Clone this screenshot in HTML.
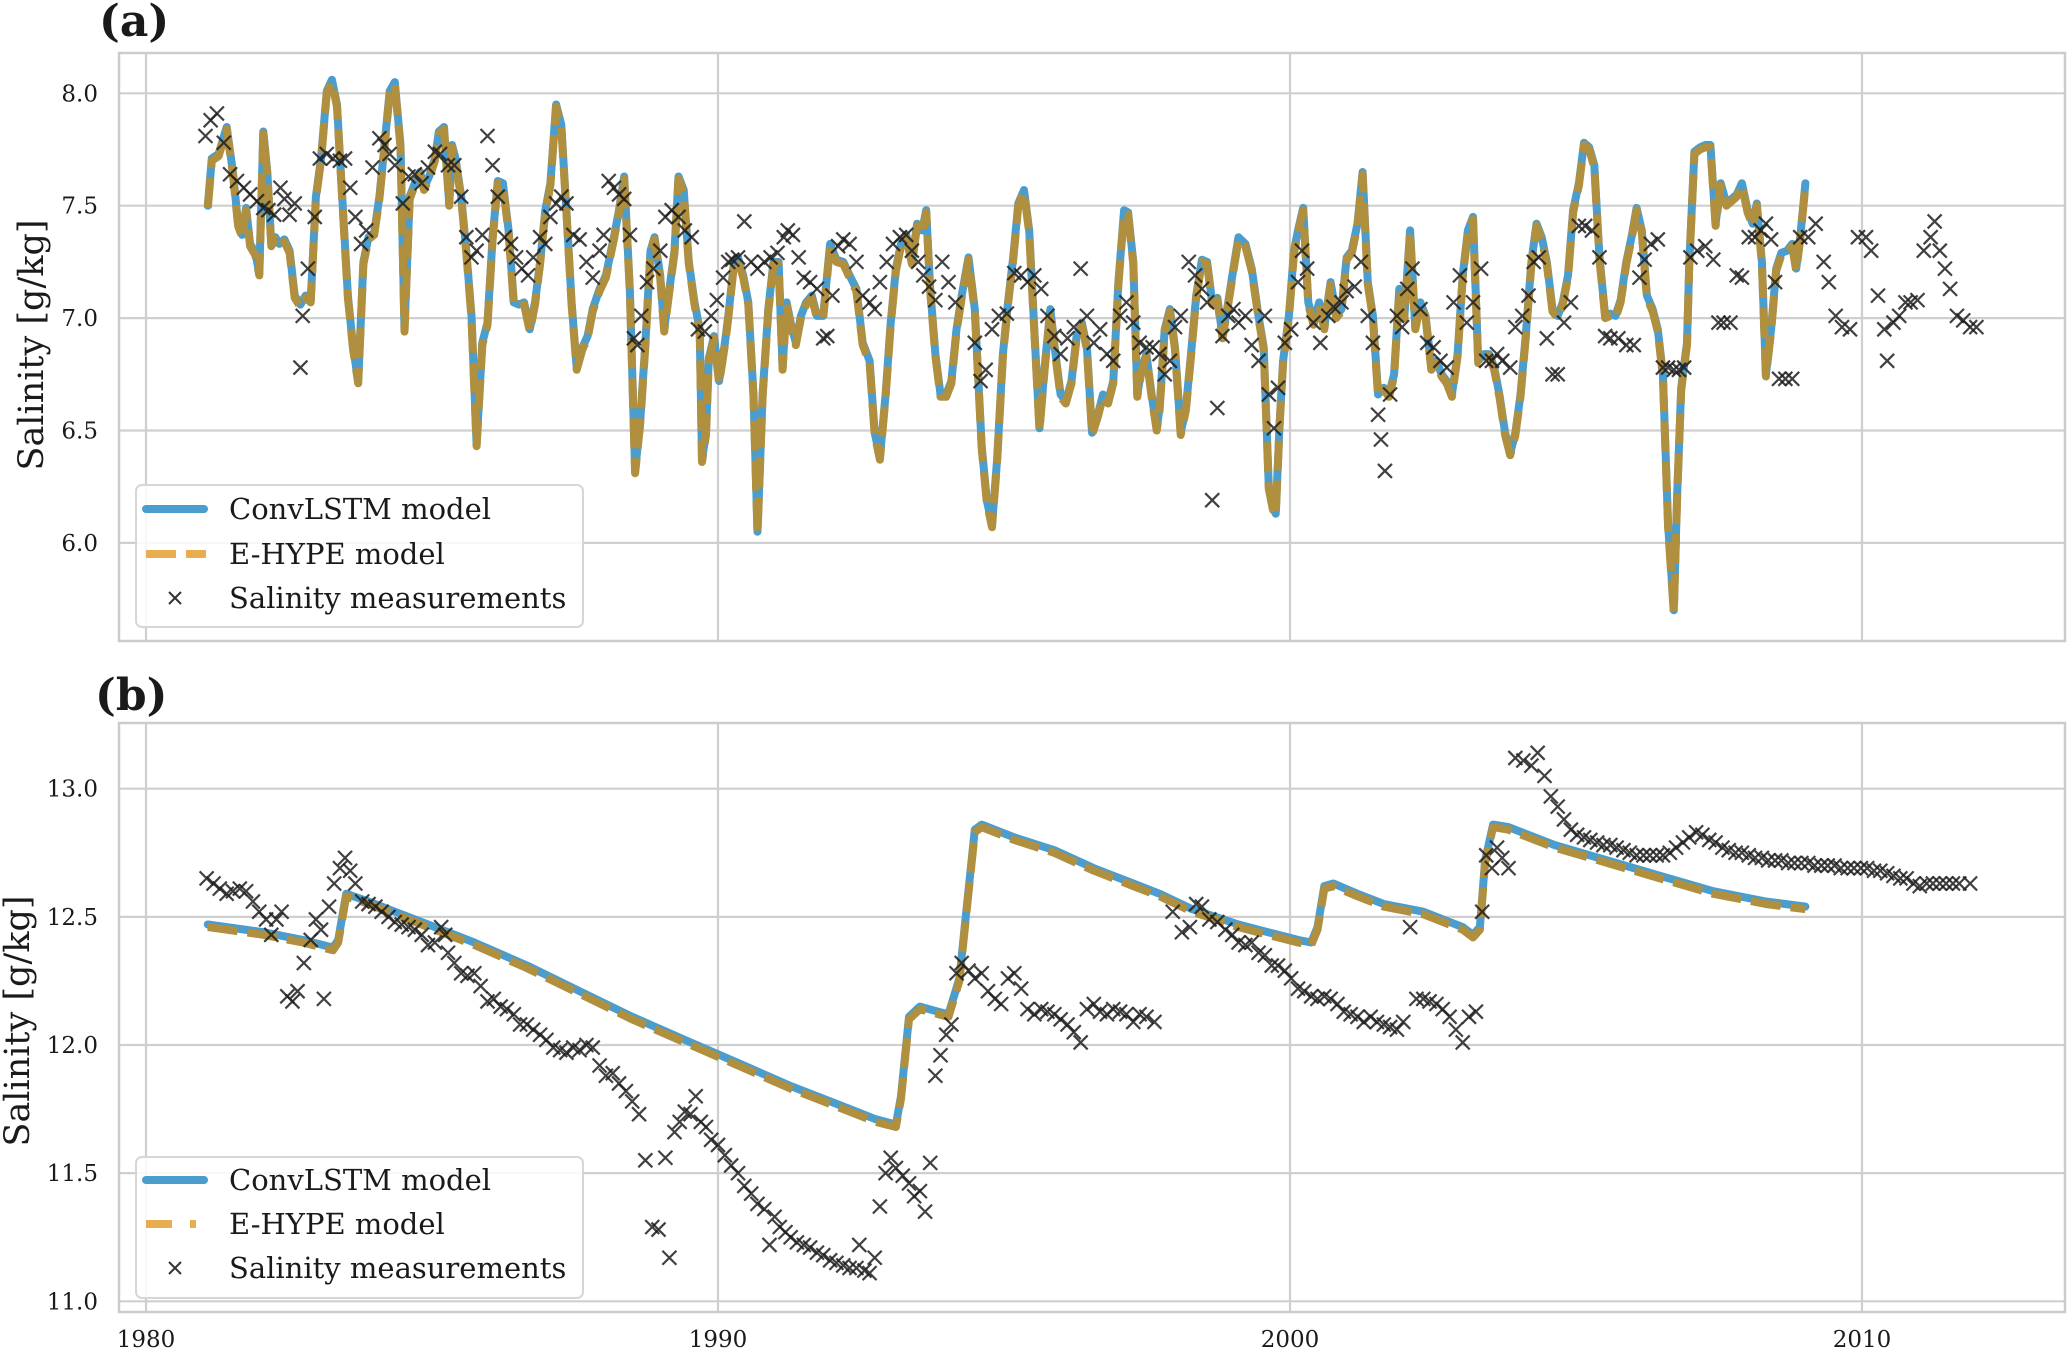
<!DOCTYPE html>
<html><head><meta charset="utf-8"><style>
html,body{margin:0;padding:0;background:#fff;}
svg{display:block;font-family:"DejaVu Serif","Liberation Serif",serif;}
</style></head><body>
<svg id="chart" width="2067" height="1352" viewBox="0 0 2067 1352" xmlns="http://www.w3.org/2000/svg">
<rect x="0" y="0" width="2067" height="1352" fill="#fff"/>
</svg>
<script>
// ---------- Panel (a) data ----------
const aModelYears=[1981.08,1981.15,1981.27,1981.41,1981.52,1981.61,1981.68,1981.75,1981.82,1981.91,1981.98,1982.05,1982.12,1982.19,1982.26,1982.33,1982.42,1982.51,1982.60,1982.70,1982.79,1982.88,1982.97,1983.06,1983.16,1983.25,1983.34,1983.43,1983.53,1983.62,1983.71,1983.80,1983.89,1983.99,1984.08,1984.17,1984.26,1984.35,1984.45,1984.52,1984.61,1984.70,1984.79,1984.86,1984.95,1985.05,1985.12,1985.21,1985.30,1985.35,1985.41,1985.51,1985.60,1985.69,1985.78,1985.88,1985.97,1986.06,1986.15,1986.24,1986.34,1986.43,1986.52,1986.61,1986.71,1986.80,1986.89,1986.98,1987.07,1987.17,1987.26,1987.35,1987.44,1987.53,1987.63,1987.72,1987.81,1987.93,1988.04,1988.18,1988.27,1988.36,1988.46,1988.55,1988.64,1988.73,1988.82,1988.89,1988.99,1989.06,1989.15,1989.24,1989.31,1989.40,1989.49,1989.59,1989.68,1989.72,1989.79,1989.84,1989.93,1990.02,1990.12,1990.18,1990.28,1990.35,1990.44,1990.53,1990.62,1990.69,1990.78,1990.88,1990.97,1991.06,1991.13,1991.20,1991.27,1991.36,1991.45,1991.54,1991.64,1991.73,1991.84,1991.96,1992.07,1992.19,1992.30,1992.42,1992.53,1992.65,1992.74,1992.83,1992.93,1993.02,1993.11,1993.20,1993.29,1993.39,1993.48,1993.57,1993.64,1993.71,1993.80,1993.89,1993.99,1994.08,1994.17,1994.26,1994.38,1994.49,1994.61,1994.70,1994.79,1994.88,1994.98,1995.07,1995.16,1995.25,1995.35,1995.44,1995.53,1995.62,1995.71,1995.81,1995.90,1995.99,1996.08,1996.18,1996.27,1996.36,1996.45,1996.54,1996.64,1996.73,1996.82,1996.91,1997.00,1997.10,1997.17,1997.26,1997.33,1997.40,1997.49,1997.58,1997.67,1997.72,1997.81,1997.90,1997.99,1998.09,1998.18,1998.27,1998.36,1998.46,1998.55,1998.64,1998.73,1998.82,1998.92,1999.01,1999.10,1999.22,1999.33,1999.45,1999.54,1999.63,1999.70,1999.75,1999.82,1999.88,1999.98,2000.07,2000.14,2000.23,2000.32,2000.41,2000.51,2000.60,2000.71,2000.81,2000.90,2000.99,2001.08,2001.18,2001.27,2001.36,2001.45,2001.54,2001.64,2001.73,2001.82,2001.91,2002.00,2002.10,2002.19,2002.28,2002.37,2002.47,2002.56,2002.65,2002.74,2002.83,2002.93,2003.02,2003.11,2003.20,2003.29,2003.39,2003.48,2003.57,2003.66,2003.76,2003.85,2003.94,2004.03,2004.12,2004.22,2004.31,2004.40,2004.49,2004.59,2004.68,2004.77,2004.86,2004.95,2005.05,2005.14,2005.23,2005.32,2005.41,2005.51,2005.60,2005.69,2005.78,2005.88,2005.97,2006.06,2006.15,2006.24,2006.34,2006.43,2006.52,2006.61,2006.71,2006.77,2006.84,2006.94,2006.98,2007.07,2007.17,2007.26,2007.35,2007.44,2007.53,2007.63,2007.72,2007.81,2007.90,2008.00,2008.09,2008.16,2008.25,2008.32,2008.41,2008.50,2008.59,2008.69,2008.78,2008.85,2008.92,2009.01];
const aConvLSTM=[7.50,7.71,7.73,7.85,7.65,7.42,7.37,7.49,7.33,7.29,7.20,7.83,7.65,7.33,7.36,7.33,7.35,7.30,7.10,7.06,7.10,7.08,7.54,7.71,8.01,8.06,7.95,7.54,7.10,6.87,6.72,7.25,7.36,7.38,7.54,7.77,8.01,8.05,7.77,6.95,7.54,7.60,7.65,7.58,7.63,7.71,7.83,7.85,7.51,7.77,7.71,7.54,7.30,7.01,6.44,6.89,6.98,7.36,7.61,7.60,7.39,7.07,7.06,7.07,6.95,7.07,7.25,7.48,7.60,7.95,7.86,7.48,7.07,6.78,6.87,6.92,7.04,7.13,7.19,7.36,7.48,7.63,7.12,6.32,6.54,6.89,7.30,7.36,7.19,6.95,7.13,7.30,7.63,7.57,7.25,7.07,6.95,6.37,6.49,6.82,6.92,6.72,6.89,7.01,7.25,7.27,7.19,7.07,6.66,6.05,6.66,7.04,7.25,7.25,6.78,7.07,6.98,6.89,7.01,7.07,7.10,7.01,7.01,7.33,7.26,7.25,7.19,7.13,6.89,6.81,6.49,6.38,6.66,6.98,7.22,7.33,7.37,7.25,7.42,7.39,7.48,7.13,6.84,6.66,6.66,6.72,6.95,7.10,7.27,7.04,6.43,6.19,6.08,6.37,6.84,7.07,7.27,7.51,7.57,7.39,6.95,6.51,6.78,7.04,6.84,6.66,6.63,6.72,6.92,6.98,6.87,6.49,6.57,6.66,6.63,6.72,7.16,7.48,7.47,7.25,6.66,6.77,6.84,6.66,6.51,6.60,6.95,7.04,6.87,6.49,6.60,6.84,7.10,7.26,7.25,7.07,7.09,6.92,7.07,7.22,7.36,7.33,7.22,7.01,6.87,6.25,6.16,6.13,6.54,6.81,7.01,7.30,7.39,7.49,7.07,6.98,7.07,6.96,7.16,7.01,7.04,7.27,7.30,7.42,7.65,7.16,7.01,6.66,6.69,6.66,6.75,7.13,7.01,7.39,6.96,7.07,7.01,6.78,6.81,6.75,6.72,6.66,6.84,7.19,7.39,7.45,6.81,6.84,6.84,6.78,6.66,6.49,6.40,6.49,6.66,6.92,7.25,7.42,7.36,7.25,7.04,7.01,7.07,7.19,7.48,7.60,7.78,7.76,7.68,7.27,7.01,7.02,7.01,7.08,7.25,7.36,7.49,7.39,7.10,7.04,6.95,6.75,6.08,5.70,6.22,6.69,6.89,7.25,7.74,7.76,7.77,7.77,7.42,7.60,7.51,7.53,7.55,7.60,7.48,7.42,7.51,7.25,6.75,6.95,7.22,7.29,7.30,7.33,7.22,7.36,7.60];
const aEHYPE=aConvLSTM.map(v=>v-0.01);
const aMeasYears=[1981.04,1981.13,1981.24,1981.36,1981.47,1981.59,1981.71,1981.82,1981.94,1982.05,1982.14,1982.24,1982.35,1982.42,1982.51,1982.60,1982.70,1982.74,1982.83,1982.95,1983.04,1983.16,1983.27,1983.39,1983.48,1983.57,1983.66,1983.76,1983.85,1983.96,1984.08,1984.17,1984.26,1984.35,1984.49,1984.59,1984.70,1984.82,1984.93,1985.05,1985.14,1985.28,1985.39,1985.51,1985.60,1985.69,1985.78,1985.88,1985.97,1986.06,1986.15,1986.27,1986.38,1986.47,1986.57,1986.68,1986.77,1986.89,1986.98,1987.07,1987.17,1987.26,1987.35,1987.47,1987.58,1987.70,1987.81,1987.93,1988.00,1988.09,1988.18,1988.27,1988.36,1988.46,1988.53,1988.59,1988.66,1988.76,1988.87,1988.99,1989.08,1989.19,1989.31,1989.42,1989.54,1989.65,1989.77,1989.88,1989.98,1990.09,1990.18,1990.25,1990.35,1990.46,1990.58,1990.69,1990.81,1990.92,1991.04,1991.15,1991.22,1991.31,1991.41,1991.50,1991.61,1991.73,1991.84,1991.91,1992.00,1992.10,1992.19,1992.30,1992.42,1992.53,1992.65,1992.74,1992.83,1992.95,1993.06,1993.18,1993.29,1993.39,1993.50,1993.59,1993.69,1993.80,1993.92,1994.03,1994.15,1994.49,1994.59,1994.68,1994.79,1994.91,1995.05,1995.18,1995.30,1995.41,1995.53,1995.65,1995.76,1995.88,1995.99,1996.11,1996.22,1996.34,1996.45,1996.57,1996.68,1996.80,1996.91,1997.03,1997.14,1997.26,1997.37,1997.49,1997.60,1997.72,1997.81,1997.90,1997.99,1998.09,1998.23,1998.34,1998.46,1998.55,1998.64,1998.73,1998.82,1998.92,1999.01,1999.10,1999.22,1999.33,1999.45,1999.56,1999.63,1999.72,1999.79,1999.91,2000.02,2000.14,2000.21,2000.30,2000.41,2000.53,2000.67,2000.76,2000.90,2000.99,2001.13,2001.24,2001.36,2001.45,2001.54,2001.59,2001.66,2001.75,2001.87,2001.96,2002.05,2002.14,2002.28,2002.40,2002.51,2002.63,2002.74,2002.86,2002.97,2003.09,2003.20,2003.34,2003.43,2003.53,2003.62,2003.71,2003.85,2003.94,2004.06,2004.17,2004.26,2004.35,2004.49,2004.59,2004.68,2004.79,2004.91,2005.05,2005.16,2005.28,2005.41,2005.51,2005.60,2005.74,2005.88,2006.01,2006.11,2006.20,2006.31,2006.43,2006.52,2006.61,2006.71,2006.80,2006.89,2007.00,2007.12,2007.26,2007.40,2007.49,2007.58,2007.70,2007.81,2007.90,2008.02,2008.13,2008.23,2008.32,2008.41,2008.48,2008.55,2008.66,2008.78,2008.92,2009.06,2009.19,2009.33,2009.42,2009.54,2009.65,2009.79,2009.93,2010.07,2010.16,2010.28,2010.39,2010.44,2010.55,2010.65,2010.76,2010.85,2010.97,2011.08,2011.20,2011.27,2011.36,2011.45,2011.54,2011.66,2011.77,2011.89,2012.00];
const aMeasValues=[7.81,7.88,7.91,7.78,7.64,7.61,7.58,7.55,7.52,7.49,7.48,7.46,7.58,7.53,7.46,7.51,6.78,7.01,7.22,7.45,7.71,7.73,7.71,7.70,7.71,7.58,7.45,7.33,7.39,7.67,7.80,7.77,7.73,7.68,7.51,7.63,7.64,7.60,7.67,7.74,7.73,7.68,7.68,7.54,7.36,7.27,7.30,7.37,7.81,7.68,7.54,7.36,7.33,7.27,7.22,7.19,7.27,7.36,7.33,7.45,7.51,7.54,7.51,7.37,7.35,7.25,7.18,7.30,7.37,7.61,7.58,7.55,7.53,7.37,6.91,6.88,7.01,7.16,7.22,7.30,7.45,7.48,7.45,7.39,7.36,6.95,6.94,7.01,7.08,7.18,7.25,7.26,7.27,7.43,7.25,7.22,7.25,7.27,7.29,7.36,7.39,7.37,7.27,7.18,7.16,7.13,6.91,6.92,7.10,7.32,7.35,7.33,7.25,7.10,7.07,7.04,7.16,7.25,7.33,7.36,7.37,7.30,7.25,7.19,7.14,7.08,7.25,7.16,7.07,6.89,6.72,6.77,6.95,7.01,7.02,7.20,7.19,7.16,7.19,7.13,7.01,6.92,6.84,6.91,6.96,7.22,7.01,6.89,6.95,6.84,6.81,7.01,7.07,6.98,6.89,6.87,6.87,6.84,6.75,6.81,6.96,7.01,7.25,7.19,7.13,7.07,6.19,6.60,6.92,7.01,7.04,6.98,7.01,6.88,6.81,7.01,6.66,6.51,6.69,6.89,6.95,7.16,7.30,7.22,6.98,6.89,7.01,7.05,7.07,7.12,7.14,7.25,7.01,6.89,6.57,6.46,6.32,6.66,7.01,6.96,7.13,7.22,7.04,6.89,6.87,6.81,6.78,7.07,7.19,6.98,7.07,7.22,6.81,6.81,6.84,6.81,6.78,6.96,7.01,7.10,7.25,7.27,6.91,6.75,6.75,6.98,7.07,7.41,7.41,7.39,7.27,6.92,6.91,6.91,6.88,6.88,7.18,7.26,7.33,7.35,6.78,6.78,6.77,6.77,6.78,7.27,7.30,7.32,7.26,6.98,6.98,6.98,7.19,7.18,7.36,7.36,7.39,7.42,7.35,7.16,6.73,6.73,6.73,7.36,7.36,7.42,7.25,7.16,7.01,6.96,6.95,7.36,7.36,7.30,7.10,6.95,6.81,6.98,7.01,7.07,7.07,7.08,7.30,7.36,7.43,7.30,7.22,7.13,7.01,6.99,6.96,6.96];
const aYTicks=[6.0,6.5,7.0,7.5,8.0];
const aYTickLabels=["6.0","6.5","7.0","7.5","8.0"];

// ---------- Panel (b) data ----------
const bModelYears=[1981.08,1982.05,1982.74,1983.27,1983.36,1983.50,1983.89,1984.35,1985.05,1985.74,1986.66,1987.58,1988.50,1989.42,1990.35,1991.27,1992.19,1992.76,1993.11,1993.20,1993.34,1993.53,1993.85,1994.03,1994.22,1994.35,1994.49,1994.61,1995.18,1995.88,1996.57,1997.26,1997.72,1998.29,1999.10,1999.79,2000.14,2000.37,2000.48,2000.60,2000.76,2001.18,2001.64,2002.33,2003.02,2003.20,2003.32,2003.41,2003.55,2003.82,2004.63,2005.55,2006.47,2007.40,2008.32,2009.01];
const bConvLSTM=[12.47,12.44,12.41,12.38,12.41,12.59,12.56,12.52,12.46,12.40,12.31,12.21,12.11,12.02,11.93,11.84,11.76,11.71,11.69,11.80,12.11,12.15,12.13,12.12,12.26,12.54,12.84,12.86,12.81,12.76,12.69,12.63,12.59,12.53,12.47,12.43,12.41,12.40,12.46,12.62,12.63,12.59,12.55,12.52,12.46,12.43,12.46,12.72,12.86,12.85,12.78,12.72,12.66,12.60,12.56,12.54];
const bEHYPE=bConvLSTM.map(v=>v-0.01);
const bMeasYears=[1981.06,1981.18,1981.29,1981.41,1981.52,1981.64,1981.75,1981.87,1981.98,1982.10,1982.19,1982.28,1982.37,1982.47,1982.56,1982.65,1982.76,1982.88,1982.97,1983.06,1983.11,1983.20,1983.29,1983.39,1983.48,1983.57,1983.66,1983.78,1983.89,1984.01,1984.12,1984.24,1984.35,1984.47,1984.59,1984.70,1984.82,1984.93,1985.05,1985.16,1985.23,1985.28,1985.39,1985.51,1985.62,1985.74,1985.85,1985.97,1986.08,1986.20,1986.31,1986.43,1986.54,1986.66,1986.77,1986.89,1987.00,1987.12,1987.24,1987.35,1987.47,1987.58,1987.70,1987.81,1987.93,1988.04,1988.16,1988.27,1988.39,1988.50,1988.62,1988.73,1988.85,1988.96,1989.08,1989.15,1989.24,1989.33,1989.42,1989.52,1989.61,1989.70,1989.79,1989.88,1990.00,1990.12,1990.23,1990.35,1990.46,1990.58,1990.69,1990.81,1990.90,1990.99,1991.08,1991.18,1991.27,1991.38,1991.50,1991.61,1991.73,1991.84,1991.96,1992.07,1992.19,1992.30,1992.42,1992.47,1992.56,1992.65,1992.74,1992.83,1992.93,1993.02,1993.11,1993.23,1993.34,1993.43,1993.53,1993.62,1993.71,1993.80,1993.89,1993.99,1994.08,1994.17,1994.26,1994.38,1994.49,1994.61,1994.72,1994.84,1994.95,1995.07,1995.18,1995.30,1995.41,1995.53,1995.65,1995.76,1995.88,1995.99,1996.11,1996.22,1996.34,1996.45,1996.57,1996.68,1996.80,1996.91,1997.03,1997.14,1997.26,1997.37,1997.49,1997.63,1997.95,1998.11,1998.25,1998.36,1998.46,1998.59,1998.73,1998.87,1998.99,1999.10,1999.22,1999.33,1999.45,1999.56,1999.68,1999.79,1999.91,2000.02,2000.14,2000.25,2000.37,2000.48,2000.60,2000.71,2000.83,2000.94,2001.06,2001.18,2001.29,2001.41,2001.52,2001.64,2001.75,2001.87,2001.98,2002.10,2002.21,2002.33,2002.44,2002.56,2002.67,2002.79,2002.90,2003.02,2003.13,2003.25,2003.36,2003.43,2003.53,2003.62,2003.71,2003.82,2003.94,2004.08,2004.22,2004.33,2004.45,2004.56,2004.68,2004.79,2004.91,2005.02,2005.14,2005.25,2005.37,2005.48,2005.60,2005.71,2005.83,2005.94,2006.06,2006.18,2006.29,2006.41,2006.52,2006.64,2006.75,2006.87,2006.98,2007.10,2007.21,2007.33,2007.44,2007.56,2007.67,2007.79,2007.90,2008.02,2008.13,2008.25,2008.36,2008.48,2008.59,2008.71,2008.82,2008.94,2009.06,2009.17,2009.29,2009.40,2009.52,2009.63,2009.75,2009.86,2009.98,2010.09,2010.21,2010.32,2010.44,2010.55,2010.67,2010.78,2010.90,2011.01,2011.13,2011.24,2011.36,2011.47,2011.59,2011.70,2011.89];
const bMeasValues=[12.65,12.63,12.61,12.59,12.60,12.61,12.60,12.56,12.52,12.49,12.43,12.49,12.52,12.19,12.17,12.21,12.32,12.41,12.49,12.45,12.18,12.54,12.63,12.69,12.73,12.68,12.63,12.56,12.55,12.54,12.52,12.50,12.48,12.47,12.46,12.45,12.43,12.39,12.40,12.46,12.43,12.36,12.32,12.28,12.27,12.28,12.23,12.17,12.18,12.15,12.14,12.12,12.08,12.08,12.06,12.04,12.02,11.99,11.98,11.97,11.99,11.98,12.00,11.99,11.92,11.88,11.89,11.85,11.82,11.78,11.73,11.55,11.29,11.28,11.56,11.17,11.66,11.70,11.74,11.73,11.80,11.70,11.68,11.63,11.61,11.57,11.53,11.50,11.45,11.42,11.38,11.36,11.22,11.33,11.29,11.27,11.25,11.23,11.22,11.21,11.19,11.18,11.16,11.15,11.14,11.13,11.13,11.22,11.12,11.11,11.17,11.37,11.50,11.56,11.52,11.49,11.46,11.41,11.43,11.35,11.54,11.88,11.96,12.04,12.08,12.28,12.32,12.29,12.26,12.28,12.21,12.18,12.16,12.26,12.28,12.22,12.14,12.12,12.14,12.13,12.12,12.10,12.08,12.05,12.01,12.14,12.16,12.13,12.12,12.14,12.13,12.12,12.09,12.12,12.11,12.09,12.52,12.44,12.46,12.55,12.54,12.49,12.48,12.45,12.43,12.40,12.39,12.40,12.36,12.35,12.31,12.31,12.29,12.26,12.22,12.21,12.19,12.18,12.19,12.18,12.16,12.13,12.12,12.11,12.09,12.11,12.09,12.08,12.07,12.06,12.09,12.46,12.18,12.18,12.17,12.16,12.14,12.11,12.06,12.01,12.11,12.13,12.52,12.74,12.69,12.77,12.73,12.69,13.12,13.11,13.09,13.14,13.05,12.97,12.93,12.88,12.84,12.82,12.81,12.80,12.79,12.78,12.78,12.77,12.76,12.75,12.74,12.74,12.74,12.74,12.74,12.75,12.77,12.79,12.81,12.83,12.82,12.80,12.79,12.77,12.76,12.75,12.75,12.74,12.73,12.73,12.72,12.72,12.72,12.71,12.71,12.71,12.71,12.70,12.70,12.70,12.70,12.69,12.69,12.69,12.69,12.69,12.68,12.68,12.67,12.66,12.65,12.65,12.63,12.62,12.63,12.63,12.63,12.63,12.63,12.63,12.63];
const bYTicks=[11.0,11.5,12.0,12.5,13.0];
const bYTickLabels=["11.0","11.5","12.0","12.5","13.0"];

const xTicks=[1980,1990,2000,2010];
const xTickLabels=["1980","1990","2000","2010"];

// ---------- drawing ----------
const NS="http://www.w3.org/2000/svg";
const svg=document.getElementById('chart');
function mk(tag,attrs,parent){const e=document.createElementNS(NS,tag);for(const k in attrs)e.setAttribute(k,attrs[k]);(parent||svg).appendChild(e);return e;}
const X0=119,X1=2065;
function xScale(yr){return 146+(yr-1980)*57.2;}

function panel(cfg){
  const g=mk('g',{});
  
  
  const y=v=>cfg.y0+(cfg.vTop-v)*cfg.k;
  cfg.yTicks.forEach((t,i)=>{
    const l=mk('line',{x1:X0,x2:X1,y1:y(t),y2:y(t),stroke:'#cfcfcf','stroke-width':2.2},g);
    
    
    const tx=mk('text',{x:98,y:y(t)+8,'text-anchor':'end','font-size':23,fill:'#1a1a1a'},g);
    tx.textContent=cfg.yTickLabels[i];
    
    
  });
  xTicks.forEach(t=>{
    const l=mk('line',{x1:xScale(t),x2:xScale(t),y1:cfg.top,y2:cfg.bottom,stroke:'#cfcfcf','stroke-width':2.2},g);
    
    
  });
  const fr=mk('rect',{x:X0,y:cfg.top,width:X1-X0,height:cfg.bottom-cfg.top,fill:'none',stroke:'#cccccc','stroke-width':2.5},g);
  
  
  const pts=(xs,vs)=>xs.map((t,i)=>xScale(t).toFixed(1)+','+y(vs[i]).toFixed(1)).join(' ');
  const l1=mk('polyline',{points:pts(cfg.modelYears,cfg.conv),fill:'none',stroke:'#4a9dcc','stroke-width':8,'stroke-linejoin':'round','stroke-linecap':'round'},g);
  
  
  const l2=mk('polyline',{points:pts(cfg.modelYears,cfg.ehype),fill:'none',stroke:'#b08f3f','stroke-width':8,'stroke-dasharray':'30 10','stroke-linejoin':'round'},g);
  
  
  const mg=mk('g',{stroke:'#1e1e1e','stroke-width':2.2,'stroke-opacity':0.85},g);
  
  
  cfg.measYears.forEach((t,i)=>{
    const cx=xScale(t),cy=y(cfg.meas[i]),s=7;
    const p=mk('path',{d:`M${cx-s},${cy-s}L${cx+s},${cy+s}M${cx-s},${cy+s}L${cx+s},${cy-s}`},mg);
    
    
  });
  const L=cfg.legend;
  const lg=mk('g',{},g);
  
  
  mk('rect',{x:136,y:L.top,width:447,height:L.h,rx:6,fill:'#fff','fill-opacity':0.85,stroke:'#d6d6d6','stroke-width':2},lg);
  const e1=mk('line',{x1:146,x2:204,y1:L.r[0],y2:L.r[0],stroke:'#4a9dcc','stroke-width':8,'stroke-linecap':'round'},lg);
  
  
  const e2=mk('line',{x1:146,x2:206,y1:L.r[1],y2:L.r[1],stroke:'#e8ad4e','stroke-width':8,'stroke-dasharray':L.dash},lg);
  
  
  const e3=mk('path',{d:`M169,${L.r[2]-6}L181,${L.r[2]+6}M169,${L.r[2]+6}L181,${L.r[2]-6}`,stroke:'#333','stroke-width':2},lg);
  
  
  ["ConvLSTM model","E-HYPE model","Salinity measurements"].forEach((s,i)=>{
    const t=mk('text',{x:229,y:L.r[i]+10,'font-size':29,fill:'#1a1a1a'},lg);
    t.textContent=s;
    
    
  });
  const yl=mk('text',{x:0,y:0,'font-size':35,fill:'#1a1a1a','text-anchor':'middle',transform:`translate(${cfg.ylx},${cfg.yly}) rotate(-90)`},g);
  yl.textContent='Salinity [g/kg]';
  
  
  const pl=mk('text',{x:cfg.plx,y:cfg.ply,'font-size':44,'font-weight':'bold',fill:'#1a1a1a'},g);
  pl.textContent=cfg.label;
  
  
}

panel({name:'panel-a',top:53,bottom:641,y0:93.3,vTop:8.0,k:224.8,yTicks:aYTicks,yTickLabels:aYTickLabels,
  modelYears:aModelYears,conv:aConvLSTM,ehype:aEHYPE,measYears:aMeasYears,meas:aMeasValues,
  legend:{top:485,h:142,r:[509,554,598],dash:'30 10'},ylx:43,yly:345,label:'(a)',plx:99,ply:36});
panel({name:'panel-b',top:723,bottom:1312,y0:788.7,vTop:13.0,k:256.3,yTicks:bYTicks,yTickLabels:bYTickLabels,
  modelYears:bModelYears,conv:bConvLSTM,ehype:bEHYPE,measYears:bMeasYears,meas:bMeasValues,
  legend:{top:1157,h:141,r:[1180,1224,1268],dash:'26 18 6 100'},ylx:29,yly:1021,label:'(b)',plx:95,ply:710});

xTicks.forEach((t,i)=>{
  const tx=mk('text',{x:xScale(t),y:1347,'text-anchor':'middle','font-size':23,fill:'#1a1a1a'});
  tx.textContent=xTickLabels[i];
  
  
});
</script>
</body></html>
